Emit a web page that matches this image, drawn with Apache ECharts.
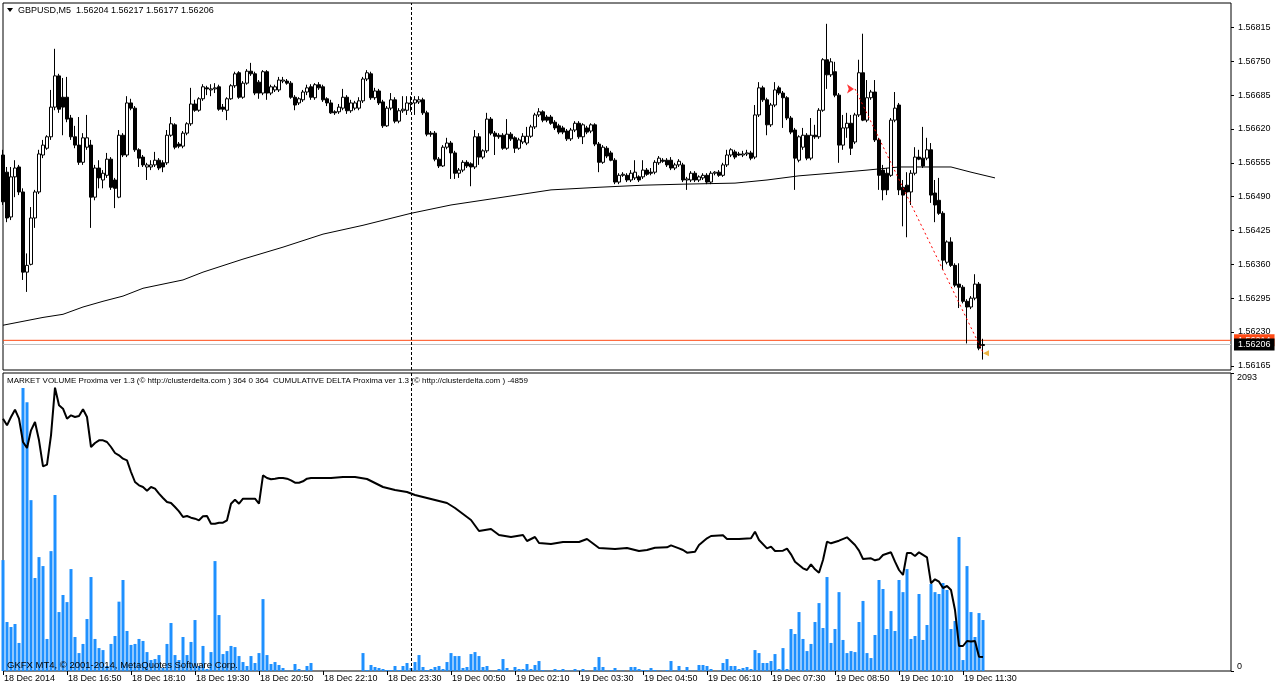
<!DOCTYPE html>
<html>
<head>
<meta charset="utf-8">
<title>GBPUSD,M5</title>
<script src="https://cdn.jsdelivr.net/npm/echarts@6/dist/echarts.min.js"></script>
<style>
html,body{margin:0;padding:0;background:#fff;}
#main{width:1276px;height:690px;}
</style>
</head>
<body>
<div id="main"></div>
<script>
// candle prices are kept in points (0.00001) above 1.56000
var PRICE_BASE = 1.56;
var opens = [
570,537,451,528,547,499,345,360,449,499, 570,583,605,662,722,681,681,641,605,589,
556,585,589,489,545,522,531,562,522,489, 608,570,670,660,580,566,547,547,551,560,
555,555,608,628,591,587,612,630,668,656, 678,699,695,697,701,662,656,678,703,728,
681,708,731,726,710,689,730,689,695,695, 712,712,708,681,670,676,691,701,680,705,
701,678,670,653,653,660,681,655,660,660, 674,716,726,680,693,672,626,660,676,635,
655,656,668,670,672,676,651,612,612,562, 549,585,593,574,535,541,556,553,547,605,
566,578,639,612,608,608,583,610,603,583, 595,593,606,624,647,653,643,643,633,626,
622,616,601,618,631,605,622,616,628,591, 556,583,574,560,518,531,531,522,526,528,
528,541,537,537,555,560,560,560,545,551, 551,522,522,535,522,526,531,518,535,537,
531,551,570,576,572,570,572,574,566,647, 699,676,628,666,699,689,680,641,618,560,
585,608,564,608,605,656,753,724,730,685, 589,622,631,595,647,728,637,680,691,599,
541,535,531,637,666,508,512,499,535,566, 564,564,580,497,483,458,364,403,358,322,
316,289,278,295,322,204];
var highs = [
580,547,547,560,551,506,381,470,503,580, 599,608,695,774,726,718,720,647,626,643,
612,647,599,551,560,541,574,566,526,618, 612,683,678,664,583,570,555,560,576,564,
560,618,643,631,595,616,633,699,676,681, 706,703,706,708,705,668,681,706,730,731,
712,735,747,730,714,733,733,705,705,720, 720,716,712,685,681,695,705,706,708,710,
705,681,676,656,668,697,685,676,674,681, 720,733,730,699,697,676,664,689,681,660,
683,683,683,683,683,680,655,616,616,566, 589,603,597,578,545,560,560,556,618,612,
581,651,643,616,612,612,639,614,606,603, 612,624,628,651,660,656,647,647,637,630,
626,620,622,635,635,631,626,631,631,595, 589,587,578,564,535,537,535,541,560,531,
560,545,545,560,568,564,564,566,555,562, 555,528,539,539,531,535,535,539,539,541,
555,580,583,580,576,578,580,578,666,710, 703,680,670,710,703,693,683,645,622,608,
622,612,641,628,660,756,822,756,749,689, 647,651,647,651,753,803,714,695,714,603,
551,545,641,691,670,522,537,541,585,580, 624,603,593,522,526,462,406,412,362,362,
320,293,299,341,326,217];
var lows = [
474,441,445,489,493,330,307,358,430,495, 564,580,599,656,651,608,633,599,583,551,
551,580,430,483,506,506,526,503,468,487, 566,566,656,576,547,547,522,541,547,541,
537,551,605,581,583,583,608,626,653,653, 674,685,683,689,655,653,637,676,699,678,
678,705,722,685,678,685,676,685,691,691, 708,705,678,656,666,672,685,676,676,695,
672,664,649,647,649,656,649,651,656,656, 670,712,676,676,666,622,624,656,631,631,
651,647,653,647,668,647,606,605,558,545, 547,581,524,524,526,537,545,510,543,551,
562,574,608,570,601,580,580,597,574,580, 591,589,603,620,643,633,633,628,618,610,
610,597,597,614,601,591,610,612,587,537, 553,564,558,514,514,528,518,518,522,518,
524,530,531,533,551,555,547,541,541,547, 518,503,518,518,518,522,514,514,531,528,
528,547,566,562,568,566,568,560,562,643, 672,608,624,662,685,622,637,610,503,556,
580,560,560,601,601,653,697,720,681,555, 580,603,570,591,643,635,633,676,595,503,
483,493,528,633,493,433,412,474,531,560, 545,560,478,441,455,349,360,355,316,276,
285,208,274,291,195,177];
var closes = [
480,449,528,545,499,345,358,449,499,572, 589,605,662,722,658,662,639,605,589,556,
603,603,489,545,526,535,562,508,506,608, 570,670,660,580,564,551,551,551,560,545,
547,608,630,585,587,612,630,668,656,678, 701,697,697,699,658,658,678,703,726,681,
708,731,726,689,689,730,689,701,701,714, 714,708,681,666,678,691,699,681,705,699,
676,670,651,651,662,681,655,670,670,674, 716,728,680,693,670,626,660,676,635,655,
658,670,670,676,676,651,610,610,562,549, 585,593,574,535,541,556,549,547,605,566,
578,639,612,606,605,583,610,601,583,599, 606,606,624,647,653,637,637,631,622,614,
614,601,618,631,605,628,614,628,591,556, 585,568,560,518,531,533,522,535,537,522,
541,533,535,556,564,558,551,545,551,558, 522,524,535,522,528,531,518,535,537,531,
551,570,580,566,570,572,574,564,647,699, 676,628,666,695,689,680,641,614,564,605,
608,564,608,605,656,753,724,749,685,589, 622,631,583,647,728,637,680,691,599,531,
503,503,637,660,503,493,499,535,566,562, 549,580,493,474,458,368,403,358,320,316,
289,278,295,322,199,206];

// moving average (price pane), sampled where read: bar index / points
var maIdx = [0,10,15,20,25,30,35,45,50,60,70,80,90,102,112,125,137,149,160,170,183,191,199,207,216,224,237,242,248];
var maPts = [243,258,264,278,289,299,314,330,345,370,393,418,435,458,474,489,503,508,512,514,516,522,530,535,541,547,547,537,526];

// dotted trend line (bar index / points)
var trendIdx = [213, 245];
var trendPts = [697, 191];

// market volume, one per bar
var volumes = [
779,344,309,330,197,1987,1888,1200,653,800, 737,225,842,1236,414,534,484,716,239,126,
190,365,660,225,161,147,35,190,246,487, 639,281,183,190,225,211,133,77,84,112,
21,190,337,112,77,239,112,204,358,35, 176,14,133,772,393,119,140,176,168,105,
63,35,105,56,126,505,112,49,63,42, 21,3,3,49,14,3,35,56,0,0,
0,0,0,0,0,0,0,0,0,0, 126,7,42,28,21,14,7,7,35,7,
35,56,21,63,112,28,7,14,28,35, 14,63,126,105,105,21,28,119,133,105,
28,35,3,3,14,84,21,3,28,14, 14,49,14,42,70,7,3,3,14,7,
14,3,3,14,3,14,3,0,28,98, 28,3,7,21,3,3,0,28,28,14,
7,7,21,7,3,3,7,70,3,35, 3,28,3,3,42,42,35,14,0,3,
56,84,35,35,14,21,28,14,147,126, 56,56,70,119,14,161,14,295,260,414,
225,140,190,344,477,302,660,197,295,554, 218,126,140,133,344,492,126,91,253,639,
576,295,421,281,639,554,716,225,246,541, 218,323,611,554,541,618,569,295,351,941,
77,737,414,239,407,358];

// cumulative delta, sampled where read: bar index / value
var deltaIdx = [0,1,2,3,4,5,6,7,8,9,10,11,12,13,14,15,16,17,18,19,20,21,22,23,24,25,26,27,28,29,
30,31,32,33,34,35,36,37,38,39,40,41,42,43,44,45,46,47,48,49,50,51,52,53,54,55,56,57,58,59,
60,61,62,63,64,65,66,67,68,69,70,71,72,73,74,75,76,77,78,79,
82,85,88,91,93,95,98,101,103,106,109,111,113,115,117,119,122,124,127,130,131,133,134,137,140,144,146,147,149,153,156,159,
161,163,166,167,169,170,171,173,174,176,177,180,181,184,187,188,189,191,192,193,195,196,197,198,200,201,202,203,204,205,206,207,209,211,213,214,215,217,218,219,220,222,223,224,225,226,227,228,229,231,232,233,234,235,236,237,238,239,240,241,242,243,244,245];
var deltaVal = [1099,933,1141,1324,1099,516,366,808,1016,558,-92,-51,683,1874,1433,1349,1099,1183,1141,1166,1333,1141,391,491,558,558,516,391,241,183,
99,58,-234,-484,-567,-609,-701,-609,-651,-776,-884,-984,-1009,-1109,-1217,-1359,-1334,-1376,-1401,-1442,-1341,-1334,-1526,-1526,-1501,-1501,-1442,-1026,-926,-1026,
-901,-901,-901,-901,-1026,-317,-384,-417,-401,-384,-384,-401,-442,-501,-501,-467,-401,-384,-384,-384,
-384,-359,-359,-409,-509,-609,-684,-734,-809,-884,-959,-1009,-1134,-1284,-1434,-1709,-1659,-1809,-1859,-1809,-1959,-1859,-2009,-2034,-1984,-1984,-1909,-1984,-2134,-2159,-2134,-2209,
-2184,-2126,-2117,-2067,-2142,-2184,-2251,-2226,-2059,-1892,-1834,-1817,-1909,-1909,-1892,-1726,-1934,-2142,-2101,-2209,-2201,-2151,-2292,-2476,-2642,-2684,-2542,-2667,-2751,-2434,-1976,-2017,-1951,-1867,-2059,-2201,-2409,-2392,-2442,-2417,-2309,-2242,-2476,-2684,-2809,-2259,-2259,-2334,-2242,-2367,-3017,-2917,-2976,-3134,-3084,-3184,-3684,-4584,-4584,-4459,-4471,-4459,-4850,-4859];

var priceTicks = [1.56165,1.56230,1.56295,1.56360,1.56425,1.56490,1.56555,1.56620,1.56685,1.56750,1.56815];
var timeLabels = ['18 Dec 2014','18 Dec 16:50','18 Dec 18:10','18 Dec 19:30','18 Dec 20:50','18 Dec 22:10',
  '18 Dec 23:30','19 Dec 00:50','19 Dec 02:10','19 Dec 03:30','19 Dec 04:50','19 Dec 06:10',
  '19 Dec 07:30','19 Dec 08:50','19 Dec 10:10','19 Dec 11:30'];
var volMax = 2093;
var bidPrice = 1.56206, askPrice = 1.56214;
var daySeparator = 102;   // 19 Dec 00:00
var slotCount = 308;      // bars that fit across the window
var labelStep = 16;

var FONT = '"Liberation Sans", Arial, sans-serif';

function toPrice(p) { return +(PRICE_BASE + p / 100000).toFixed(5); }

var cats = [];
for (var i = 0; i < slotCount; i++) cats.push(String(i));

var candles = opens.map(function (o, k) {
  return [toPrice(o), toPrice(closes[k]), toPrice(lows[k]), toPrice(highs[k])];
});
var maData = maIdx.map(function (x, k) { return [x, toPrice(maPts[k])]; });
var trendData = trendIdx.map(function (x, k) { return [x, toPrice(trendPts[k])]; });
var deltaData = deltaIdx.map(function (x, k) { return [x, deltaVal[k]]; });

function isLabelSlot(idx) { return idx % labelStep === 0 && idx / labelStep < timeLabels.length; }

function sepLine() {
  return {
    symbol: 'none', silent: true, animation: false,
    label: { show: false },
    lineStyle: { color: '#000', type: [3, 2], width: 1 },
    data: [{ xAxis: daySeparator }]
  };
}

// full-width horizontal price line with a boxed price tag on the axis side
function priceLine(name, price, lineColor, boxColor, z) {
  return {
    name: name, type: 'line', xAxisIndex: 0, yAxisIndex: 0, z: z, showSymbol: false, silent: true,
    data: [[0, price], [slotCount - 1, price]],
    lineStyle: { color: lineColor, width: 1 },
    endLabel: { show: true, distance: 3, formatter: price.toFixed(5), backgroundColor: boxColor, color: '#fff',
      fontSize: 9, fontFamily: FONT, padding: [2, 4, 1, 4] }
  };
}

var chart = echarts.init(document.getElementById('main'), null, { renderer: 'canvas' });
chart.setOption({
  animation: false,
  backgroundColor: '#fff',
  textStyle: { fontFamily: FONT },
  title: [
    { text: 'GBPUSD,M5  1.56204 1.56217 1.56177 1.56206', left: 18, top: 6, padding: 0,
      textStyle: { fontSize: 9, fontWeight: 'normal', color: '#000', fontFamily: FONT } },
    { text: 'MARKET VOLUME Proxima ver 1.3 (\u00a9 http://clusterdelta.com ) 364 0 364  CUMULATIVE DELTA Proxima ver 1.3 (\u00a9 http://clusterdelta.com ) -4859',
      left: 7, top: 377, padding: 0, textStyle: { fontSize: 8, fontWeight: 'normal', color: '#000', fontFamily: FONT } },
    { text: 'GKFX MT4, \u00a9 2001-2014, MetaQuotes Software Corp.', left: 7, top: 660, padding: 0,
      textStyle: { fontSize: 9.5, fontWeight: 'normal', color: '#000', fontFamily: FONT } }
  ],
  graphic: [
    { type: 'polygon', shape: { points: [[7, 8], [13, 8], [10, 12]] }, style: { fill: '#000' } }
  ],
  grid: [
    { left: 3, top: 3, width: 1228, height: 367, show: true, borderColor: '#000', borderWidth: 1, backgroundColor: '#fff' },
    { left: 3, top: 373, width: 1228, height: 298, show: true, borderColor: '#000', borderWidth: 1, backgroundColor: '#fff' }
  ],
  xAxis: [
    { type: 'category', gridIndex: 0, data: cats, boundaryGap: false,
      axisLine: { show: false }, axisTick: { show: false }, axisLabel: { show: false }, splitLine: { show: false } },
    { type: 'category', gridIndex: 1, data: cats, boundaryGap: false,
      axisLine: { show: false },
      axisTick: { show: true, interval: isLabelSlot, length: 4, lineStyle: { color: '#000' } },
      axisLabel: { show: true, interval: isLabelSlot, align: 'left', margin: 3, fontSize: 9, color: '#000',
        fontFamily: FONT, padding: [0, 0, 0, 1],
        formatter: function (v, idx) { return timeLabels[idx / labelStep] || ''; } },
      splitLine: { show: false } }
  ],
  yAxis: [
    { type: 'value', gridIndex: 0, position: 'right', min: 1.56157, max: 1.56862,
      axisLine: { show: false }, splitLine: { show: false },
      axisTick: { show: true, length: 3, customValues: priceTicks, lineStyle: { color: '#000' } },
      axisLabel: { customValues: priceTicks, margin: 7, fontSize: 9, color: '#000', fontFamily: FONT,
        formatter: function (v) { return v.toFixed(5); } } },
    { type: 'value', gridIndex: 1, position: 'right', min: 0, max: volMax,
      axisLine: { show: false }, splitLine: { show: false },
      axisTick: { show: true, length: 3, customValues: [volMax], lineStyle: { color: '#000' } },
      axisLabel: { customValues: [volMax], verticalAlign: 'top', margin: 6, fontSize: 9, color: '#000', fontFamily: FONT,
        formatter: function (v) { return String(v); } } },
    { type: 'value', gridIndex: 1, position: 'right', min: 0, max: volMax,
      axisLine: { show: false }, splitLine: { show: false },
      axisTick: { show: true, length: 3, customValues: [0], lineStyle: { color: '#000' } },
      axisLabel: { customValues: [0], verticalAlign: 'bottom', margin: 6, fontSize: 9, color: '#000', fontFamily: FONT,
        formatter: function (v) { return String(v); } } },
    { type: 'value', gridIndex: 1, show: false, min: -5209, max: 2241, splitLine: { show: false } }
  ],
  series: [
    priceLine('ask', askPrice, '#FF4A14', '#FF4A14', 1),
    priceLine('bid', bidPrice, '#C0C0C0', '#000', 1),
    { name: 'GBPUSD', type: 'candlestick', xAxisIndex: 0, yAxisIndex: 0, data: candles, barWidth: 3, z: 3,
      itemStyle: { color: '#fff', color0: '#000', borderColor: '#000', borderColor0: '#000', borderColorDoji: '#000', borderWidth: 1 },
      markLine: sepLine() },
    { name: 'MA', type: 'line', xAxisIndex: 0, yAxisIndex: 0, data: maData, showSymbol: false, smooth: false,
      lineStyle: { color: '#000', width: 1 }, z: 2 },
    { name: 'trend', type: 'line', xAxisIndex: 0, yAxisIndex: 0, data: trendData, showSymbol: false, z: 4,
      lineStyle: { color: '#FF0000', width: 1, type: [2, 3] } },
    { name: 'marks', type: 'scatter', xAxisIndex: 0, yAxisIndex: 0, z: 5,
      data: [
        { value: trendData[0], symbol: 'arrow', symbolRotate: -90, symbolSize: 7, symbolOffset: [-1, 0], itemStyle: { color: '#FF0000' } },
        { value: trendData[1], symbol: 'triangle', symbolRotate: 90, symbolSize: 6, symbolOffset: [3, 1], itemStyle: { color: '#E8A317' } }
      ] },
    { name: 'volume', type: 'bar', xAxisIndex: 1, yAxisIndex: 1, data: volumes, barWidth: 3,
      itemStyle: { color: '#1E90FF' }, markLine: sepLine() },
    { name: 'delta', type: 'line', xAxisIndex: 1, yAxisIndex: 3, data: deltaData, showSymbol: false,
      lineStyle: { color: '#000', width: 2 }, z: 3 }
  ]
});
</script>
</body>
</html>
